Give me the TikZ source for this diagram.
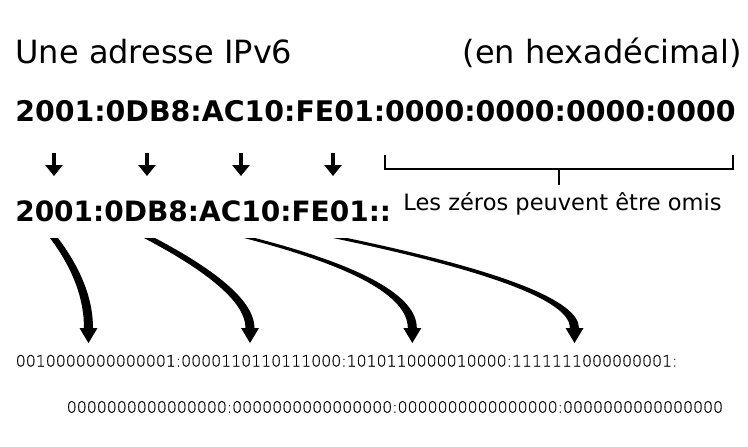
\documentclass[tikz,border=0pt]{standalone}
\usepackage{fontspec}
\setmainfont{DejaVu Sans}
\newfontfamily\thinfont[FakeBold=0.6]{DejaVu Sans ExtraLight}
\usetikzlibrary{arrows.meta, calc}

\begin{document}
\begin{tikzpicture}[x=0.75pt, y=-0.75pt,
	txt/.style={inner sep=0pt, anchor=base west},
	big/.style={txt, font=\fontsize{24}{24}\selectfont},
	hex/.style={txt, font=\fontsize{21}{21}\selectfont\bfseries},
	bin/.style={txt, font=\fontsize{11.8}{12}\selectfont\thinfont},
	shortarrow/.style={line width=3pt, -{Triangle[width=12.75pt, length=8.25pt]}},
	bracket/.style={line width=1.5pt},
	curvy/.style={fill=black}]
	% Frame
	\fill[white] (0,0) rectangle (748,446);
	\useasboundingbox (0,0) rectangle (748,446);
	% Titles
	\node[big] (title) at (15.2,63) {Une adresse IPv6};
	\node[big, anchor=base east] (unit) at (742,63) {(en hexadécimal)};
	% Full and short address
	\node[hex, font=\fontsize{21.3}{21}\selectfont\bfseries] (full) at (15,121.5) {2001:0DB8:AC10:FE01:0000:0000:0000:0000};
	\node[hex] (short) at (15,221.5) {2001:0DB8:AC10:FE01::};
	% Short arrows
	\coordinate (u1) at (54,153);   \coordinate (w1) at (54,176);
	\coordinate (u2) at (147,153);  \coordinate (w2) at (147,176);
	\coordinate (u3) at (241,153);  \coordinate (w3) at (241,176);
	\coordinate (u4) at (333,153);  \coordinate (w4) at (333,176);
	\draw[shortarrow] (u1) -- (w1);
	\draw[shortarrow] (u2) -- (w2);
	\draw[shortarrow] (u3) -- (w3);
	\draw[shortarrow] (u4) -- (w4);
	% Bracket over the zeros
	\coordinate (bl) at (385,155);
	\coordinate (br) at (733,155);
	\coordinate (bm) at (559,169.3);
	\draw[bracket] (bl) |- (bm) -| (br);
	\draw[bracket] (bm) -- ++(0,16);
	\node[txt, anchor=base, font=\fontsize{16.9}{17}\selectfont] (omis) at (562.5,210) {Les zéros peuvent être omis};
	% Curved arrows
	\coordinate (s1) at (54,238);    \coordinate (e1) at (88.5,328);
	\coordinate (s2) at (149.5,238); \coordinate (e2) at (250,328);
	\coordinate (s3) at (249.5,238); \coordinate (e3) at (412.3,328);
	\coordinate (s4) at (340,238);   \coordinate (e4) at (574.5,328);
	\fill[curvy] ($(s1)+(4,0)$) .. controls +(23,30.7) and +(0,-29.3) .. ($(e1)+(4.5,0)$) -- ($(e1)+(9,0)$) -- ($(e1)+(0,15)$) -- ($(e1)+(-9,0)$) -- ($(e1)+(-4.5,0)$) .. controls +(0,-29.3) and +(23,30.7) .. ($(s1)+(-4,0)$) -- cycle;
	\fill[curvy] ($(s2)+(5.5,0)$) .. controls +(67,35.3) and +(0,-24.7) .. ($(e2)+(4.5,0)$) -- ($(e2)+(9,0)$) -- ($(e2)+(0,15)$) -- ($(e2)+(-9,0)$) -- ($(e2)+(-4.5,0)$) .. controls +(0,-24.7) and +(67,35.3) .. ($(s2)+(-5.5,0)$) -- cycle;
	\fill[curvy] ($(s3)+(5.5,0)$) .. controls +(108.3,28) and +(0,-32) .. ($(e3)+(4.5,0)$) -- ($(e3)+(9,0)$) -- ($(e3)+(0,15)$) -- ($(e3)+(-9,0)$) -- ($(e3)+(-4.5,0)$) .. controls +(0,-32) and +(108.3,28) .. ($(s3)+(-5.5,0)$) -- cycle;
	\fill[curvy] ($(s4)+(7,0)$) .. controls +(156.3,32.7) and +(0,-27.3) .. ($(e4)+(4.5,0)$) -- ($(e4)+(9,0)$) -- ($(e4)+(0,15)$) -- ($(e4)+(-9,0)$) -- ($(e4)+(-4.5,0)$) .. controls +(0,-27.3) and +(156.3,32.7) .. ($(s4)+(-7,0)$) -- cycle;
	% Binary form
	\node[bin] (binhigh) at (15.5,366.5) {0010000000000001:0000110110111000:1010110000010000:1111111000000001:};
	\node[bin] (binlow) at (66.5,412.7) {0000000000000000:0000000000000000:0000000000000000:0000000000000000};
\end{tikzpicture}
\end{document}
